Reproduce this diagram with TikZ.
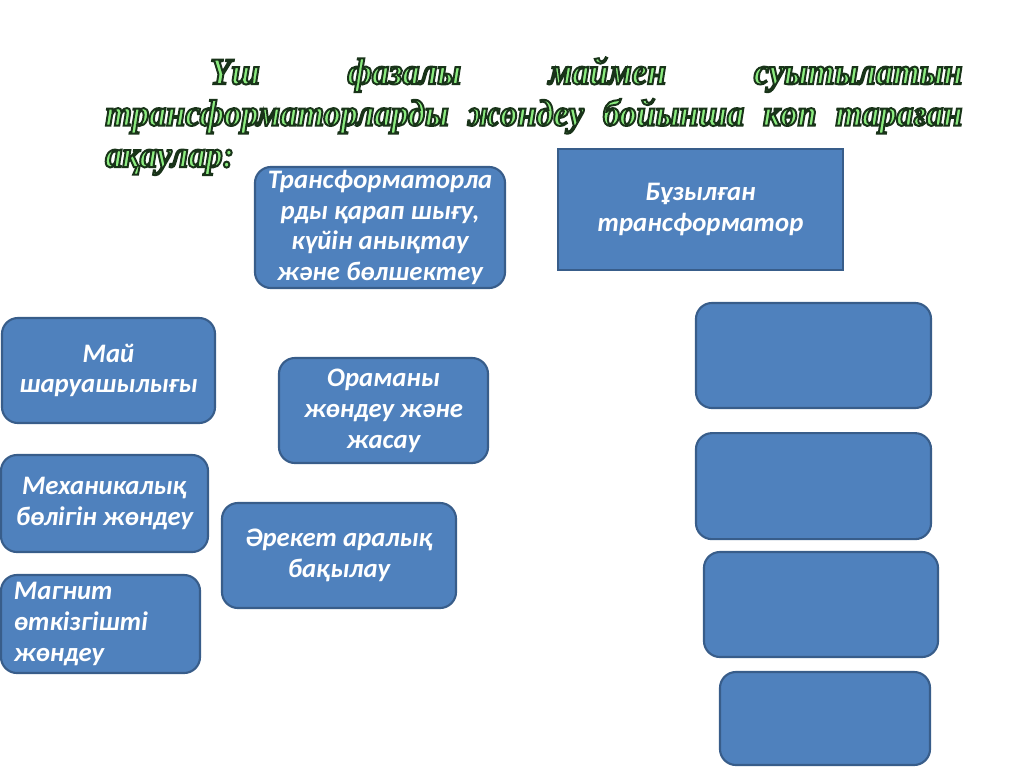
\documentclass[tikz,border=0pt]{standalone}
\usepackage{fontspec}
\setmainfont{Carlito}
\newfontfamily\titlefont{Liberation Serif}[FakeStretch=0.92]
\usetikzlibrary{positioning}
\usepackage{xcolor}

\definecolor{boxblue}{RGB}{79,129,189}
\definecolor{boxline}{RGB}{56,93,138}
\definecolor{titlegreen}{RGB}{140,236,128}

% outlined title letters (fill + dark stroke)
\newcommand{\outlineon}{\special{pdf:literal direct 2 Tr 1.4 w 0.1 0.2 0.1 RG}}
\newcommand{\outlineoff}{\special{pdf:literal direct 0 Tr}}

\begin{document}
\begin{tikzpicture}[x=0.025cm, y=-0.025cm]
    % Styles
    \tikzstyle{block} = [rectangle, draw=boxline, line width=1.5pt, fill=boxblue, rounded corners=0.4cm, text=white, align=center, inner sep=0pt, font=\bfseries\itshape\fontsize{19}{22}\selectfont]
    \tikzstyle{plainblock} = [block, rounded corners=0pt]
    \tikzstyle{heading} = [anchor=north west, inner sep=0pt, text width=21.425cm, align=justify, text=titlegreen, font=\titlefont\bfseries\itshape\fontsize{26.5}{29.5}\selectfont]

    \useasboundingbox (0,0) rectangle (1024,767);

    % Title
    \node [heading] (title) at (105,57) {\outlineon\hspace*{2.625cm}Үш фазалы маймен суытылатын\linebreak трансформаторларды жөндеу бойынша көп тараған\linebreak ақаулар:\outlineoff};

    % Nodes
    \node [block, minimum width=6.25cm, minimum height=3.025cm] (inspect) at (380,227.5) {Трансформаторла\\рды қарап шығу,\\күйін анықтау\\және бөлшектеу};
    \node [plainblock, minimum width=7.125cm, minimum height=3.025cm] (faulty) at (700.5,209.5) {Бұзылған\\трансформатор};
    \node [block, minimum width=5.325cm, minimum height=2.625cm] (oil) at (108.5,370.5) {Май\\шаруашылығы};
    \node [block, minimum width=5.175cm, minimum height=2.425cm] (mech) at (104.5,503.5) {Механикалық\\бөлігін жөндеу};
    \node [block, align=left, text width=4.325cm, inner xsep=0.325cm, minimum height=2.45cm] (magnet) at (100.5,624) {Магнит\\өткізгішті\\жөндеу};
    \node [block, minimum width=5.225cm, minimum height=2.625cm] (winding) at (383.5,410.5) {Ораманы\\жөндеу және\\жасау};
    \node [block, minimum width=5.85cm, minimum height=2.625cm] (control) at (339,555.5) {Әрекет аралық\\бақылау};

    % Empty slots
    \node [block, minimum width=5.875cm, minimum height=2.625cm] (slot1) at (813.5,355.5) {};
    \node [block, minimum width=5.875cm, minimum height=2.65cm, below=0.575cm of slot1] (slot2) {};
    \node [block, minimum width=5.85cm, minimum height=2.625cm] (slot3) at (821,604.5) {};
    \node [block, minimum width=5.25cm, minimum height=2.325cm] (slot4) at (825,718.5) {};

\end{tikzpicture}
\end{document}
